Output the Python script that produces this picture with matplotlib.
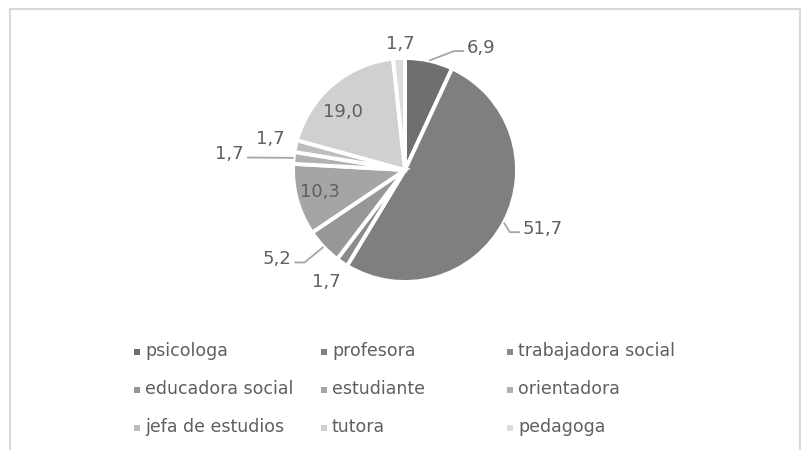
import numpy as np
import matplotlib
matplotlib.use("Agg")
import matplotlib.pyplot as plt
from matplotlib.patches import Rectangle
from matplotlib.lines import Line2D

categories = ["psicologa", "profesora", "trabajadora social",
              "educadora social", "estudiante", "orientadora",
              "jefa de estudios", "tutora", "pedagoga"]
values = [6.9, 51.7, 1.7, 5.2, 10.3, 1.7, 1.7, 19.0, 1.7]
value_labels = ["6,9", "51,7", "1,7", "5,2", "10,3", "1,7", "1,7", "19,0", "1,7"]

colors = ["#6f6f6f", "#7f7f7f", "#8b8b8b", "#979797", "#a5a5a5",
          "#b1b1b1", "#bdbdbd", "#d0d0d0", "#dddddd"]
# label placement style: (clockwise angle offset from slice middle, radius factor)
# for leader labels the point is the end of the leader line
label_style = [(14, 1.186), (0.4, 1.166), (0.9, 1.22), (3.4, 1.286), (1.0, 0.78),
               (-1.7, 1.415), (0.5, 1.23), (-6.7, 0.76), (1.0, 1.13)]
leader = [True, True, False, True, False, True, False, False, False]

W, H = 801, 450
CX, CY, R = 405, 170, 112
TXT = "#5f5f5f"
LINE = "#a6a6a6"
FONT = "DejaVu Sans"

fig = plt.figure(figsize=(W / 100, H / 100), dpi=100)
ax = fig.add_axes([0, 0, 1, 1])
wedges, _ = ax.pie(values, colors=colors, startangle=90, counterclock=False,
                   radius=1.0, wedgeprops=dict(edgecolor="white", linewidth=2.8))
ax.set_xlim(-CX / R, (W - CX) / R)
ax.set_ylim(-(H - CY) / R, CY / R)
ax.set_aspect("auto")
ax.axis("off")

def polar(theta_deg, r):
    t = np.deg2rad(theta_deg)
    return r * np.cos(t), r * np.sin(t)

px = 1.0 / R  # one pixel in data units
for w, lab, (doff, rf), has_line in zip(wedges, value_labels, label_style, leader):
    mid = 0.5 * (w.theta1 + w.theta2)
    x, y = polar(mid - doff, rf)
    if has_line:
        side = 1 if x > 0 else -1
        x0, y0 = polar(mid, 1.0)
        ex = x - side * 10 * px
        if side * (ex - x0) > 0 and abs(y - y0) > 4 * px:
            ax.plot([x0, ex, x], [y0, y, y], color=LINE, lw=1.3,
                    solid_joinstyle="miter", solid_capstyle="butt")
        else:
            ax.plot([x0, x], [y0, y], color=LINE, lw=1.3, solid_capstyle="butt")
        ax.text(x + side * 3 * px, y - 1.5 * px, lab,
                ha="left" if side > 0 else "right", va="baseline",
                fontsize=13, color=TXT, family=FONT)
    else:
        ax.text(x, y, lab, ha="center", va="center", fontsize=13,
                color=TXT, family=FONT)

def fx(p):
    return p / W

def fy(p):
    return 1 - p / H

# frame (bottom edge cut off in the reference)
fig.add_artist(Line2D([fx(10), fx(10)], [fy(450), fy(9)], color="#d9d9d9", lw=1.5))
fig.add_artist(Line2D([fx(10), fx(800)], [fy(9), fy(9)], color="#d9d9d9", lw=1.5))
fig.add_artist(Line2D([fx(799.5), fx(799.5)], [fy(9), fy(450)], color="#d9d9d9", lw=1.5))

# legend: 3 columns grid
col_x = [137, 324, 510]
row_base = [356.5, 394.5, 432.5]
for i, (cat, c) in enumerate(zip(categories, colors)):
    r, col = divmod(i, 3)
    mx, by = col_x[col], row_base[r]
    fig.add_artist(Rectangle((fx(mx - 3), fy(by - 1.5)), 6 / W, 6 / H,
                             transform=fig.transFigure, color=c, lw=0))
    fig.text(fx(mx + 8), fy(by), cat, ha="left", va="baseline", fontsize=12.5,
             color=TXT, family=FONT)

fig.savefig("out.png", dpi=100)
